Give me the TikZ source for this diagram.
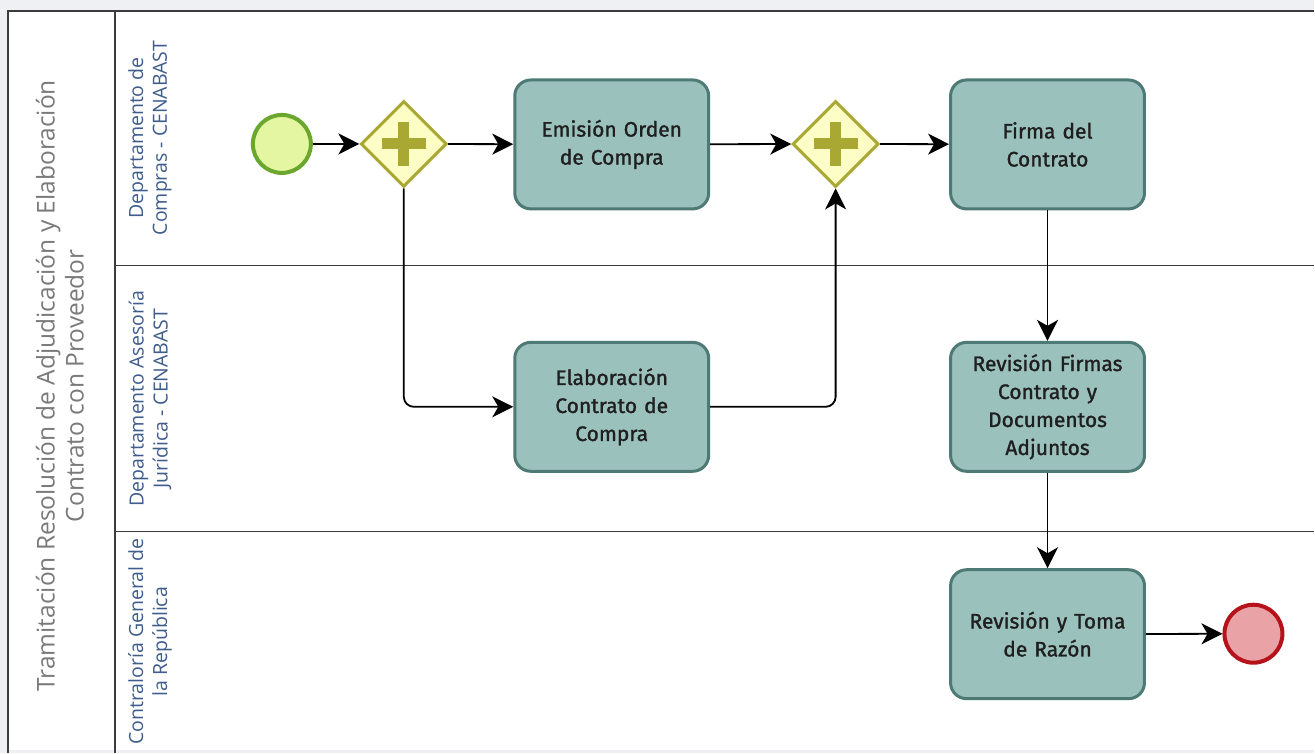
\documentclass[tikz,border=0pt]{standalone}
\usepackage{fontspec}
\setmainfont{Fira Sans}
\newfontfamily\taskfont{Fira Sans}[BoldFont={Fira Sans}, BoldFeatures={FakeBold=1.3}]
\newfontfamily\lanefont{Open Sans}
\usetikzlibrary{arrows.meta,shapes.geometric,calc}

\definecolor{pagegray}{HTML}{EEF0F4}
\definecolor{poolline}{HTML}{3C3C3C}
\definecolor{pooltext}{HTML}{7A7A7A}
\definecolor{lanetext}{HTML}{3E5C8C}
\definecolor{taskfill}{HTML}{9BC1BC}
\definecolor{taskline}{HTML}{4D7A74}
\definecolor{gwfill}{HTML}{FDFDC6}
\definecolor{gwline}{HTML}{A8A832}
\definecolor{startfill}{HTML}{E4F6A2}
\definecolor{startline}{HTML}{6BA72E}
\definecolor{endfill}{HTML}{E9A2A5}
\definecolor{endline}{HTML}{B5121B}

\tikzset{
  x=1pt, y=-1pt,
  taskbox/.style={draw=taskline, fill=taskfill, line width=3pt, rounded corners=16pt,
    minimum width=194pt, minimum height=129pt, inner sep=0pt, text width=186pt,
    align=center, font=\taskfont\bfseries\fontsize{21}{28}\selectfont, text=black!88},
  gateway/.style={draw=gwline, fill=gwfill, line width=3pt, diamond, aspect=1,
    minimum width=86pt, minimum height=86pt, inner sep=0pt},
  startev/.style={draw=startline, fill=startfill, line width=4pt, circle,
    minimum size=58pt, inner sep=0pt},
  endev/.style={draw=endline, fill=endfill, line width=4pt, circle,
    minimum size=58pt, inner sep=0pt},
  flow/.style={draw=black, line width=1.8pt, rounded corners=10pt,
    -{Stealth[length=21pt,width=21pt,inset=6pt]}},
  lanelabel/.style={rotate=90, align=center, text=lanetext,
    font=\lanefont\fontsize{19.5}{24}\selectfont},
  poollabel/.style={rotate=90, align=center, text=pooltext,
    font=\lanefont\fontsize{24.5}{29}\selectfont},
  sep/.style={draw=poolline, line width=1.2pt}
}

% cross mark of a parallel gateway
\newcommand{\gwplus}[1]{%
  \fill[gwline] ($(#1)+(-22,-5.5)$) rectangle ($(#1)+(22,5.5)$);
  \fill[gwline] ($(#1)+(-5.5,-22)$) rectangle ($(#1)+(5.5,22)$);}

\begin{document}
\begin{tikzpicture}
  % page and pool frame
  \fill[pagegray] (0,0) rectangle (1315,753);
  \fill[white] (8,11) rectangle (1315,750);
  \draw[sep] (1315,11) -- (8,11) -- (8,753);
  \draw[sep] (115,11) -- (115,753);
  \draw[sep] (115,266) -- (1315,266);
  \draw[sep] (115,532) -- (1315,532);
  \useasboundingbox (0,0) rectangle (1315,753);

  % pool and lane titles
  \node[poollabel] (pool) at (60,386)
    {Tramitación Resolución de Adjudicación y Elaboración\\Contrato con Proveedor};
  \node[lanelabel] (laneA) at (150,138) {Departamento de\\Compras - CENABAST};
  \node[lanelabel] (laneB) at (150,399) {Departamento Asesoría\\Jurídica - CENABAST};
  \node[lanelabel] (laneC) at (150,642) {Contraloría General de\\la República};

  % events and gateways
  \node[startev] (start) at (282,144) {};
  \node[gateway] (g1) at (404,144) {};
  \gwplus{g1}
  \node[gateway] (g2) at (836,144) {};
  \gwplus{g2}
  \node[endev] (stop) at (1254,634) {};

  % tasks
  \node[taskbox] (emision) at (612,144.5) {Emisión Orden\\de Compra};
  \node[taskbox] (firma) at (1048,144.5) {Firma del\\Contrato};
  \node[taskbox] (elab) at (612,407) {Elaboración\\Contrato de\\Compra};
  \node[taskbox] (revfirmas) at (1048,407) {Revisión Firmas\\Contrato y\\Documentos\\Adjuntos};
  \node[taskbox] (revtoma) at (1048,634.5) {Revisión y Toma\\de Razón};

  % sequence flows
  \draw[flow] (start) -- (g1);
  \draw[flow] (g1) -- (emision);
  \draw[flow] (g1.south) |- (elab.west);
  \draw[flow] (emision) -- (g2);
  \draw[flow] (elab.east) -| (g2.south);
  \draw[flow] (g2) -- (firma);
  \draw[flow] (firma) -- (revfirmas);
  \draw[flow] (revfirmas) -- (revtoma);
  \draw[flow] (revtoma) -- (stop);
\end{tikzpicture}
\end{document}
